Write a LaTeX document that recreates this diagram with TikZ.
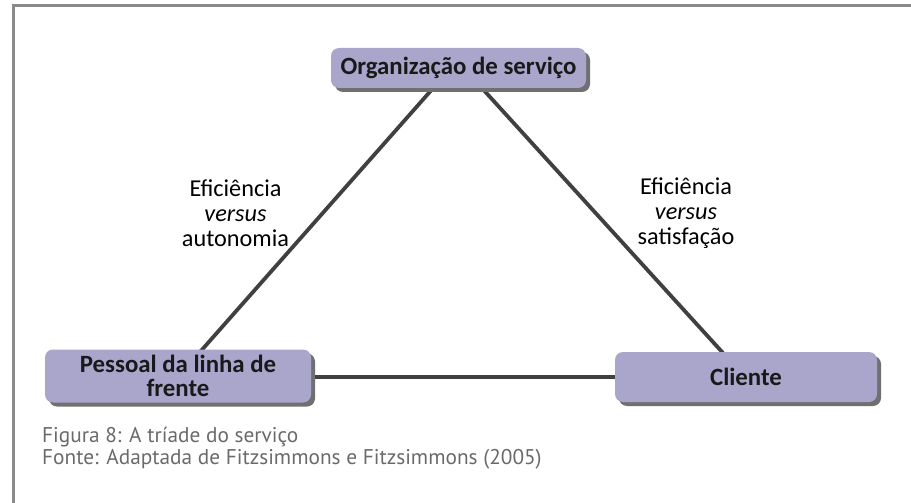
\documentclass[tikz,border=0pt]{standalone}
\usepackage{fontspec}
\setmainfont{Carlito}
\newfontfamily\capfont{PT Sans}
\usetikzlibrary{shadows,calc}
\definecolor{boxfill}{HTML}{A9A5CB}
\definecolor{shadowgray}{HTML}{707070}
\definecolor{linegray}{HTML}{404040}
\definecolor{framegray}{HTML}{8A8A8A}
\definecolor{capgray}{HTML}{6A6A6A}
\newlength\measA
\newlength\measB
\newlength\measC
\settowidth\measA{\capfont\fontsize{20}{24}\selectfont Figura 8: A tríade do serviço}
\settowidth\measB{\fontsize{24}{24}\selectfont\bfseries Organização de serviço}
\settowidth\measC{\fontsize{24}{24}\selectfont Eficiência}
\begin{document}
\begin{tikzpicture}[x=1pt,y=-1pt]
\pgfmathsetmacro\capsize{20*256/\measA}
\pgfmathsetmacro\boxsize{24*236/\measB}
\pgfmathsetmacro\lblsize{24*92/\measC}
\tikzset{
  box/.style={rounded corners=8pt, fill=boxfill, draw=none, inner sep=0pt,
    align=center, text=black!90,
    font=\fontsize{\boxsize}{24.5}\selectfont\bfseries,
    general shadow={shadow xshift=4pt, shadow yshift=-4pt, fill=shadowgray}},
  conn/.style={draw=linegray, line width=3.8pt},
  lbl/.style={align=center, inner sep=0pt, font=\fontsize{\lblsize}{25}\selectfont},
  caption/.style={align=left, anchor=west, inner sep=0pt, text=capgray,
    font=\capfont\fontsize{\capsize}{22}\selectfont},
  frame/.style={draw=framegray, line width=3pt}
}
\useasboundingbox (0,0) rectangle (911,503);
\coordinate (f1) at (911,6);
\coordinate (f2) at (13.5,6);
\coordinate (f3) at (13.5,503);
\draw[frame] (f1) -- (f2) -- (f3);

\coordinate (a1) at (435,86);
\coordinate (a2) at (200,352);
\coordinate (b1) at (480,86);
\coordinate (b2) at (723,353);
\coordinate (c1) at (309,377);
\coordinate (c2) at (617,377);
\draw[conn] (a1) -- (a2);
\draw[conn] (b1) -- (b2);
\draw[conn] (c1) -- (c2);

\node[box, minimum width=255pt, minimum height=40pt] (org) at (458.5,68) {Organização de serviço};
\node[box, minimum width=266pt, minimum height=53pt] (pes) at (178,376) {Pessoal da linha de\\frente};
\node[box, minimum width=262pt, minimum height=50pt] (cli) at (746,377) {Cliente};

\node[lbl] (l1) at (235.5,213) {Eficiência\\\textit{versus}\\autonomia};
\node[lbl] (l2) at (686,213) {Eficiência\\\textit{versus}\\satisfação};

\node[caption] (cap) at (42,448) {Figura 8: A tríade do serviço\\Fonte: Adaptada de Fitzsimmons e Fitzsimmons (2005)};
\end{tikzpicture}
\end{document}
